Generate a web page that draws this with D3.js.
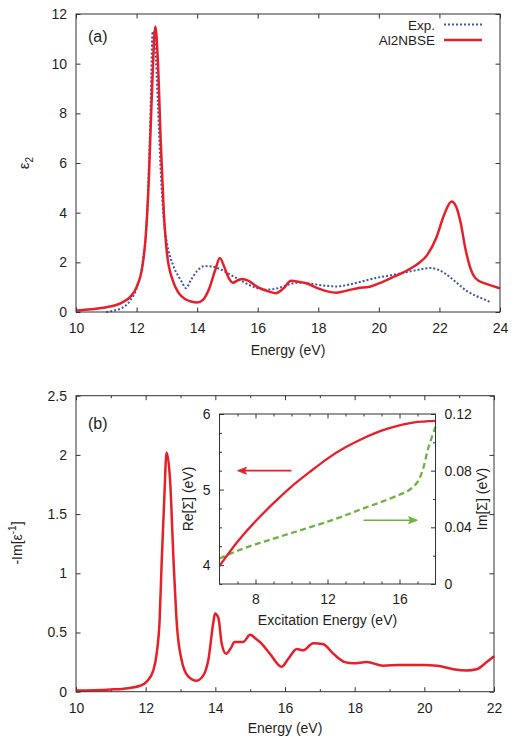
<!DOCTYPE html>
<html><head><meta charset="utf-8">
<script src="https://cdn.jsdelivr.net/npm/d3@7/dist/d3.min.js"></script>
<style>
body{margin:0;background:#fff;}
svg text{font-family:"Liberation Sans",Arial,Helvetica,sans-serif;fill:#1e1e1e;}
</style></head><body>
<svg id="c" width="519" height="745"></svg>
<script>
// ---------- data ----------
// Panel (a): epsilon_2
const expE = [11.0,11.3,11.5,11.8,12.0,12.2,12.35,12.45,12.53,12.62,12.7,12.8,12.9,13.0,13.2,13.4,13.5,13.63,13.8,14.0,14.25,14.5,14.8,15.1,15.4,15.7,16.0,16.3,16.7,17.0,17.3,17.7,18.1,18.6,19.0,19.4,19.9,20.4,20.9,21.3,21.7,22.0,22.3,22.6,22.9,23.2,23.5,23.67];
const expV = [0.0,0.07,0.15,0.48,0.95,2.0,4.0,7.5,11.3,10.6,8.5,5.6,3.7,2.8,1.9,1.4,1.2,0.96,1.3,1.65,1.85,1.83,1.7,1.5,1.3,1.1,0.95,0.9,0.97,1.1,1.18,1.15,1.08,1.03,1.1,1.22,1.37,1.48,1.6,1.7,1.77,1.68,1.45,1.15,0.85,0.65,0.5,0.4];
const bseE = [10.0,10.5,11.0,11.5,11.8,12.0,12.2,12.3,12.4,12.5,12.62,12.7,12.8,12.9,13.0,13.2,13.4,13.6,13.8,14.0,14.2,14.4,14.6,14.75,14.9,15.05,15.18,15.35,15.5,15.7,16.0,16.3,16.6,16.85,17.1,17.35,17.6,18.0,18.3,18.6,19.0,19.3,19.7,20.0,20.5,20.9,21.3,21.6,21.9,22.15,22.4,22.55,22.7,22.85,23.0,23.2,23.5,23.75,24.0];
const bseV = [0.06,0.11,0.19,0.37,0.62,1.0,1.9,3.0,5.2,8.6,11.5,10.2,6.8,4.0,2.4,1.25,0.75,0.52,0.42,0.38,0.5,0.95,1.7,2.17,1.8,1.35,1.18,1.28,1.33,1.25,1.0,0.85,0.76,0.95,1.26,1.22,1.16,0.95,0.83,0.78,0.88,0.96,1.02,1.15,1.42,1.65,1.95,2.3,3.0,3.9,4.45,4.25,3.6,2.6,1.85,1.35,1.15,1.05,0.95];
// Panel (b): loss function -Im[1/eps]
const lossE = [10.0,10.5,11.0,11.5,11.84,12.03,12.22,12.32,12.4,12.46,12.53,12.6,12.7,12.8,12.9,13.03,13.22,13.46,13.66,13.8,13.94,13.99,14.09,14.18,14.31,14.45,14.55,14.8,15.0,15.19,15.28,15.57,15.9,16.1,16.34,16.53,16.81,17.1,17.39,17.72,17.96,18.35,18.82,19.3,19.97,20.36,20.83,21.22,21.5,21.79,22.0];
const lossV = [0.01,0.012,0.018,0.03,0.05,0.085,0.18,0.33,0.6,1.1,1.6,2.02,1.79,1.11,0.55,0.27,0.13,0.093,0.14,0.27,0.58,0.66,0.62,0.41,0.32,0.37,0.42,0.42,0.48,0.44,0.42,0.32,0.21,0.28,0.36,0.35,0.41,0.4,0.32,0.25,0.24,0.25,0.22,0.225,0.225,0.22,0.19,0.18,0.19,0.25,0.30];
// Inset: self-energy
const sigE  = [6,7,8,9,10,11,12,13,14,15,16,16.5,17,17.3,17.6,18];
const reSig = [3.99,4.31,4.58,4.82,5.04,5.23,5.41,5.56,5.68,5.78,5.85,5.875,5.895,5.90,5.905,5.91];
const imSig = [0.018,0.0235,0.028,0.032,0.036,0.040,0.044,0.0485,0.0534,0.058,0.063,0.066,0.072,0.081,0.096,0.111];
// Inset arrows [x from, x to, level]
const reArrow = [10, 7, 5.25];
const imArrow = [14, 17, 0.045];
// tick labels
const xTicksA = [10,12,14,16,18,20,22,24];
const yTicksA = [0,2,4,6,8,10,12];
const xTicksB = [10,12,14,16,18,20,22];
const xMinorB = [11,13,15,17,19,21];
const yTicksB = [0,0.5,1,1.5,2,2.5];
const xTicksIn = [8,12,16];
const xMinorIn = [7,9,10,11,13,14,15,17];
const yTicksInL = [4,5,6];
const yMinorInL = [3.75,4.25,4.5,4.75,5.25,5.5,5.75];
const yTicksInR = [0,0.04,0.08,0.12];
const yMinorInR = [0.02,0.06,0.1];
const legendLabels = ["Exp.","Al2NBSE"];

// ---------- drawing ----------
const RED = "#e5202a", BLUE = "#3e56a6", GREEN = "#6cb33f", AX = "#333";
const svg = d3.select("#c");
const FONT = "Liberation Sans, Arial, Helvetica, sans-serif";

function axis(gen, scale, vals, size, pad, fmt, tr){
  const a = gen(scale).tickValues(vals).tickSizeInner(-size).tickSizeOuter(0)
    .tickPadding(pad).tickFormat(fmt || (()=>""));
  const g = svg.append("g").attr("transform", tr).call(a);
  g.attr("font-family", FONT).attr("font-size", 14);
  g.select(".domain").remove();
  g.selectAll("line").attr("stroke", AX).attr("stroke-width", 1);
  g.selectAll("text").attr("fill", "#1e1e1e");
  return g;
}
const fmtNum = d3.format("");

// ===== Panel (a) =====
const xA = d3.scaleLinear().domain([10,24]).range([76,500]);
const yA = d3.scaleLinear().domain([0,12]).range([312,14]);
axis(d3.axisBottom, xA, xTicksA, 4.5, 11, fmtNum, "translate(0,312)");
axis(d3.axisTop, xA, xTicksA, 4.5, 3, null, "translate(0,14)");
axis(d3.axisLeft, yA, yTicksA, 4.5, 9, fmtNum, "translate(76,0)");
axis(d3.axisRight, yA, yTicksA, 4.5, 3, null, "translate(500,0)");

const lineA = d3.line().x(d=>xA(d[0])).y(d=>yA(d[1])).curve(d3.curveMonotoneX);
svg.append("path").datum(d3.zip(expE, expV)).attr("d", lineA)
  .attr("fill","none").attr("stroke",BLUE).attr("stroke-width",2).attr("stroke-dasharray","2,2");
svg.append("path").datum(d3.zip(bseE, bseV)).attr("d", lineA)
  .attr("fill","none").attr("stroke",RED).attr("stroke-width",2.5).attr("stroke-linejoin","round");
svg.append("rect").attr("x",76).attr("y",14).attr("width",424).attr("height",298)
  .attr("fill","none").attr("stroke",AX).attr("stroke-width",1);

// legend
const legColors = [BLUE, RED];
legendLabels.forEach((t,i)=>{
  const yb = i===0 ? 29.5 : 45;
  svg.append("text").attr("x",435).attr("y",yb).attr("text-anchor","end")
    .attr("font-size",13.5).text(t);
  const ln = svg.append("line").attr("x1",444).attr("x2",482).attr("y1",yb-5).attr("y2",yb-5)
    .attr("stroke",legColors[i]);
  if(i===0) ln.attr("stroke-width",2).attr("stroke-dasharray","2,2");
  else ln.attr("stroke-width",2.5);
});
svg.append("text").attr("x",88).attr("y",42).attr("font-size",16).text("(a)");
svg.append("text").attr("x",288).attr("y",355).attr("text-anchor","middle").attr("font-size",14).text("Energy (eV)");
const lblA = svg.append("text").attr("transform","translate(29,163) rotate(-90)")
  .attr("text-anchor","middle").attr("font-size",15);
lblA.append("tspan").text("ε");
lblA.append("tspan").attr("font-size",10).attr("dy",4).text("2");

// ===== Panel (b) =====
const xB = d3.scaleLinear().domain([10,22]).range([76,494]);
const yB = d3.scaleLinear().domain([0,2.5]).range([691.7,395.7]);
axis(d3.axisBottom, xB, xTicksB, 4.5, 11, fmtNum, "translate(0,691.7)");
axis(d3.axisBottom, xB, xMinorB, 2.5, 11, null, "translate(0,691.7)");
axis(d3.axisTop, xB, xTicksB, 4.5, 3, null, "translate(0,395.7)");
axis(d3.axisTop, xB, xMinorB, 2.5, 3, null, "translate(0,395.7)");
axis(d3.axisLeft, yB, yTicksB, 4.5, 9, fmtNum, "translate(76,0)");
axis(d3.axisRight, yB, yTicksB, 4.5, 3, null, "translate(494,0)");

const lineB = d3.line().x(d=>xB(d[0])).y(d=>yB(d[1])).curve(d3.curveMonotoneX);
svg.append("path").datum(d3.zip(lossE, lossV)).attr("d", lineB)
  .attr("fill","none").attr("stroke",RED).attr("stroke-width",2.5).attr("stroke-linejoin","round");
svg.append("rect").attr("x",76).attr("y",395.7).attr("width",418).attr("height",296)
  .attr("fill","none").attr("stroke",AX).attr("stroke-width",1);
svg.append("text").attr("x",88).attr("y",429).attr("font-size",16).text("(b)");
svg.append("text").attr("x",285).attr("y",733).attr("text-anchor","middle").attr("font-size",14).text("Energy (eV)");
const lblB = svg.append("text").attr("transform","translate(22,543) rotate(-90)")
  .attr("text-anchor","middle").attr("font-size",14);
lblB.append("tspan").text("-Im[ε");
lblB.append("tspan").attr("font-size",10).attr("dy",-6).text("-1");
lblB.append("tspan").attr("dy",6).text("]");

// ===== Inset =====
const xI = d3.scaleLinear().domain([6,18]).range([219.5,435.5]);
const yIL = d3.scaleLinear().domain([3.75,6]).range([584,414]);
const yIR = d3.scaleLinear().domain([0,0.12]).range([584,414]);
svg.append("rect").attr("x",219.5).attr("y",414).attr("width",216).attr("height",170).attr("fill","#fff");
axis(d3.axisBottom, xI, xTicksIn, 4.5, 10, fmtNum, "translate(0,584)");
axis(d3.axisBottom, xI, xMinorIn, 2.5, 10, null, "translate(0,584)");
axis(d3.axisTop, xI, xTicksIn, 4.5, 3, null, "translate(0,414)");
axis(d3.axisTop, xI, xMinorIn, 2.5, 3, null, "translate(0,414)");
axis(d3.axisLeft, yIL, yTicksInL, 4.5, 9, fmtNum, "translate(219.5,0)");
axis(d3.axisLeft, yIL, yMinorInL, 2.5, 9, null, "translate(219.5,0)");
axis(d3.axisRight, yIR, yTicksInR, 4.5, 9, fmtNum, "translate(435.5,0)");
axis(d3.axisRight, yIR, yMinorInR, 2.5, 9, null, "translate(435.5,0)");

const lineRe = d3.line().x(d=>xI(d[0])).y(d=>yIL(d[1])).curve(d3.curveNatural);
const lineIm = d3.line().x(d=>xI(d[0])).y(d=>yIR(d[1])).curve(d3.curveCatmullRom.alpha(0.5));
svg.append("path").datum(d3.zip(sigE, imSig)).attr("d", lineIm)
  .attr("fill","none").attr("stroke",GREEN).attr("stroke-width",2.3).attr("stroke-dasharray","6,3.5");
svg.append("path").datum(d3.zip(sigE, reSig)).attr("d", lineRe)
  .attr("fill","none").attr("stroke",RED).attr("stroke-width",2.3);
svg.append("rect").attr("x",219.5).attr("y",414).attr("width",216).attr("height",170)
  .attr("fill","none").attr("stroke",AX).attr("stroke-width",1);

function arrow(x1,x2,y,color){
  const dir = Math.sign(x2-x1);
  svg.append("line").attr("x1",x1).attr("x2",x2-dir*6).attr("y1",y).attr("y2",y)
    .attr("stroke",color).attr("stroke-width",1.6);
  svg.append("path").attr("d",`M${x2},${y} L${x2-dir*9},${y-3.5} L${x2-dir*7},${y} L${x2-dir*9},${y+3.5} Z`)
    .attr("fill",color).attr("stroke",color).attr("stroke-width",0.8);
}
arrow(xI(reArrow[0]), xI(reArrow[1]), yIL(reArrow[2]), RED);
arrow(xI(imArrow[0]), xI(imArrow[1]), yIR(imArrow[2]), GREEN);

svg.append("text").attr("x",327.5).attr("y",625).attr("text-anchor","middle").attr("font-size",14).text("Excitation Energy (eV)");
svg.append("text").attr("transform","translate(193,499) rotate(-90)").attr("text-anchor","middle")
  .attr("font-size",14).text("Re[Σ] (eV)");
svg.append("text").attr("transform","translate(487,499) rotate(-90)").attr("text-anchor","middle")
  .attr("font-size",14).text("Im[Σ] (eV)");
</script>
</body></html>
